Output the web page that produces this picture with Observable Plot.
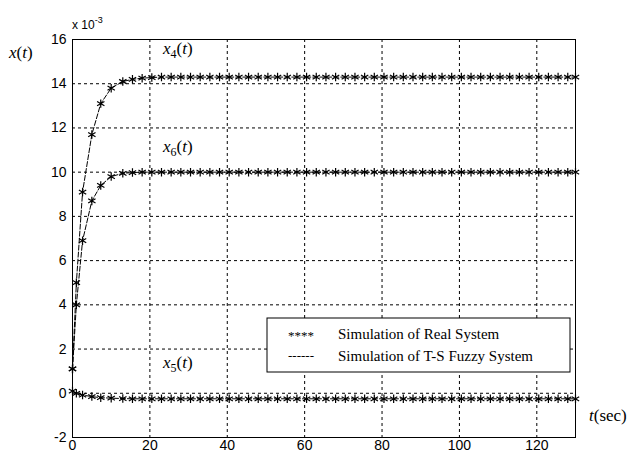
<!DOCTYPE html>
<html><head><meta charset="utf-8">
<script src="https://cdn.jsdelivr.net/npm/d3@7"></script>
<script src="https://cdn.jsdelivr.net/npm/@observablehq/plot@0.6"></script>
<style>body{margin:0;background:#fff} svg{display:block}</style>
</head><body><div id="chart"></div>
<script>
// sample times (sec)
const time = [0, 1, 2.6, 5, 7.3, 10, 13, 15.5, 18, 20.5, 23,
  25.5, 28, 30.5, 33, 35.5, 38, 40.5, 43, 45.5, 48, 50.5,
  53, 55.5, 58, 60.5, 63, 65.5, 68, 70.5, 73, 75.5, 78,
  80.5, 83, 85.5, 88, 90.5, 93, 95.5, 98, 100.5, 103, 105.5,
  108, 110.5, 113, 115.5, 118, 120.5, 123, 125.5, 128, 130];
// states (x 10^-3)
const x4 = [1.1, 5.0, 9.1, 11.7, 13.1, 13.8, 14.1, 14.2, 14.25, 14.28, 14.3,
  14.3, 14.3, 14.3, 14.3, 14.3, 14.3, 14.3, 14.3, 14.3, 14.3, 14.3,
  14.3, 14.3, 14.3, 14.3, 14.3, 14.3, 14.3, 14.3, 14.3, 14.3, 14.3,
  14.3, 14.3, 14.3, 14.3, 14.3, 14.3, 14.3, 14.3, 14.3, 14.3, 14.3,
  14.3, 14.3, 14.3, 14.3, 14.3, 14.3, 14.3, 14.3, 14.3, 14.3];
const x6 = [1.1, 4.0, 6.9, 8.7, 9.4, 9.8, 9.95, 9.98, 10.0, 10.0, 10.0,
  10.0, 10.0, 10.0, 10.0, 10.0, 10.0, 10.0, 10.0, 10.0, 10.0, 10.0,
  10.0, 10.0, 10.0, 10.0, 10.0, 10.0, 10.0, 10.0, 10.0, 10.0, 10.0,
  10.0, 10.0, 10.0, 10.0, 10.0, 10.0, 10.0, 10.0, 10.0, 10.0, 10.0,
  10.0, 10.0, 10.0, 10.0, 10.0, 10.0, 10.0, 10.0, 10.0, 10.0];
const x5 = [0.1, 0.0, -0.08, -0.15, -0.2, -0.22, -0.24, -0.25, -0.25, -0.25, -0.25,
  -0.25, -0.25, -0.25, -0.25, -0.25, -0.25, -0.25, -0.25, -0.25, -0.25, -0.25,
  -0.25, -0.25, -0.25, -0.25, -0.25, -0.25, -0.25, -0.25, -0.25, -0.25, -0.25,
  -0.25, -0.25, -0.25, -0.25, -0.25, -0.25, -0.25, -0.25, -0.25, -0.25, -0.25,
  -0.25, -0.25, -0.25, -0.25, -0.25, -0.25, -0.25, -0.25, -0.25, -0.25];
const xTicks = [0, 20, 40, 60, 80, 100, 120];
const yTicks = [-2, 0, 2, 4, 6, 8, 10, 12, 14, 16];
const seriesNames = ["x4", "x6", "x5"];
const seriesLabels = [["4", 15.3], ["6", 10.9], ["5", 1.1]];
const labelT = 23.5;
const legendItems = ["Simulation of Real System", "Simulation of T-S Fuzzy System"];

const seriesVals = [x4, x6, x5];
const data = [];
seriesNames.forEach((s, i) => time.forEach((t, j) => data.push({s, t, v: seriesVals[i][j]})));

const sans = "'Liberation Sans', Arial, sans-serif";
const plot = Plot.plot({
  width: 637, height: 453,
  marginLeft: 72, marginRight: 62, marginTop: 39, marginBottom: 16,
  style: {fontFamily: sans, fontSize: "14px", background: "white", overflow: "visible", color: "black"},
  x: {domain: [0, 130], ticks: xTicks, tickSize: 0, tickPadding: 3, label: null, tickFormat: d => String(d)},
  y: {domain: [-2, 16], ticks: yTicks, tickSize: 0, tickPadding: 6, label: null, tickFormat: d => String(d)},
  marks: [
    Plot.gridX(xTicks, {stroke: "black", strokeOpacity: 1, strokeDasharray: "3,3"}),
    Plot.gridY(yTicks, {stroke: "black", strokeOpacity: 1, strokeDasharray: "3,3"}),
    Plot.line(data, {x: "t", y: "v", z: "s", stroke: "black", strokeWidth: 1, strokeDasharray: "5,2"}),
    Plot.dot(data, {x: "t", y: "v", symbol: "asterisk", r: 4, stroke: "black", strokeWidth: 1.2}),
    Plot.frame({stroke: "black"})
  ]
});
document.getElementById("chart").appendChild(plot);

const svg = d3.select(plot);
const xs = plot.scale("x"), ys = plot.scale("y");
const serif = "'Liberation Serif', 'Times New Roman', serif";
const ann = svg.append("g").attr("text-anchor", "start").attr("fill", "black");

// series labels
seriesLabels.forEach(([sub, v]) => {
  const t = ann.append("text").attr("x", xs.apply(labelT)).attr("y", ys.apply(v))
    .attr("font-family", serif).attr("font-size", 17);
  t.append("tspan").attr("font-style", "italic").text("x");
  t.append("tspan").attr("font-size", 12).attr("dy", 4).text(sub);
  t.append("tspan").attr("dy", -4).text("(");
  t.append("tspan").attr("font-style", "italic").text("t");
  t.append("tspan").text(")");
});

// y label x(t)
{
  const t = ann.append("text").attr("x", 9).attr("y", 58)
    .attr("font-family", serif).attr("font-size", 17);
  t.append("tspan").attr("font-style", "italic").text("x");
  t.append("tspan").text("(");
  t.append("tspan").attr("font-style", "italic").text("t");
  t.append("tspan").text(")");
}
// exponent
{
  const t = ann.append("text").attr("x", 72).attr("y", 29)
    .attr("font-family", sans).attr("font-size", 12);
  t.append("tspan").text("x 10");
  t.append("tspan").attr("font-size", 9).attr("dy", -6).text("-3");
}
// x label t(sec)
{
  const t = ann.append("text").attr("x", 589).attr("y", 421)
    .attr("font-family", serif).attr("font-size", 17);
  t.append("tspan").attr("font-style", "italic").text("t");
  t.append("tspan").text("(sec)");
}
// legend
{
  const g = ann.append("g");
  g.append("rect").attr("x", 267).attr("y", 318).attr("width", 303).attr("height", 54)
    .attr("fill", "white").attr("stroke", "black");
  g.append("text").attr("x", 288).attr("y", 340).attr("font-family", serif).attr("font-size", 13).text("****");
  g.append("text").attr("x", 288).attr("y", 360).attr("font-family", serif).attr("font-size", 13).text("------");
  legendItems.forEach((s, i) => g.append("text").attr("x", 338).attr("y", 339 + i * 22)
    .attr("font-family", serif).attr("font-size", 15).text(s));
}
</script></body></html>
